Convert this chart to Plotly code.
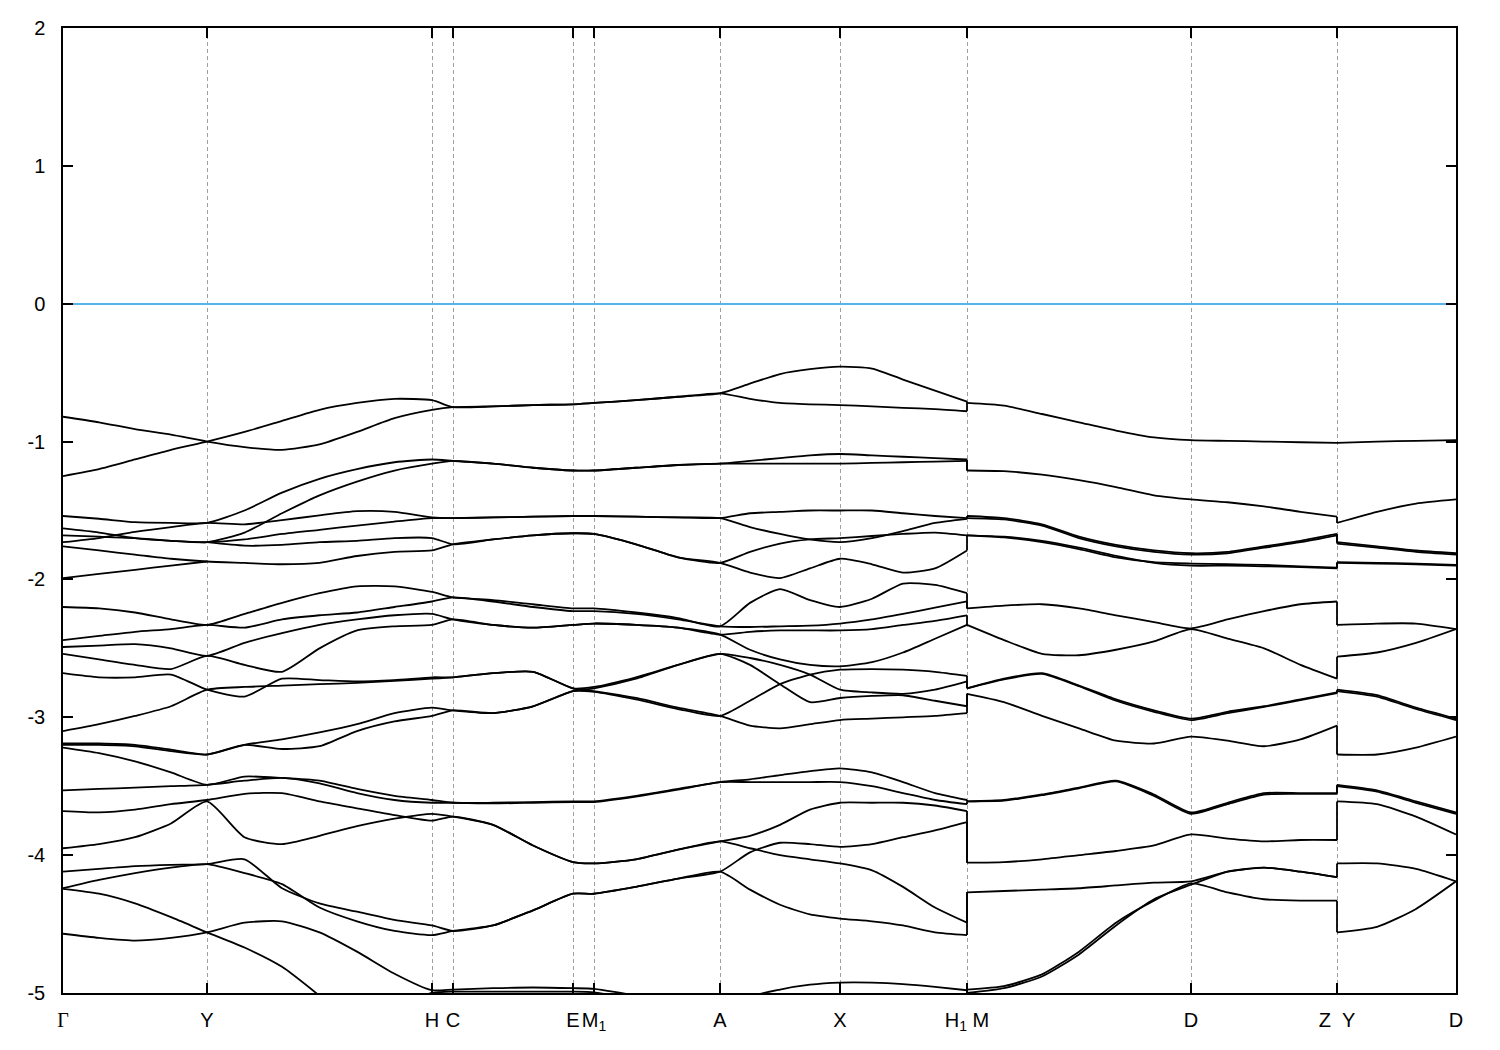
import plotly.graph_objects as go

# k-path sample positions (arbitrary path units); duplicated points mark discontinuities H1|M and Z|Y
K = [0.000, 0.036, 0.072, 0.108, 0.144,
     0.1815, 0.219, 0.2565, 0.294, 0.3315, 0.369,
     0.390,
     0.430, 0.470, 0.510,
     0.531,
     0.573, 0.615, 0.657,
     0.687, 0.717, 0.747, 0.777,
     0.809, 0.840, 0.872, 0.904,
     0.904, 0.941, 0.979, 1.016, 1.053, 1.091, 1.128,
     1.1645, 1.201, 1.2375, 1.274,
     1.274, 1.314, 1.353, 1.393]

K_TICKS = [0.000, 0.144, 0.369, 0.390, 0.510, 0.531, 0.657, 0.777, 0.904, 1.128, 1.274, 1.393]
K_LABELS = ["<span style='font-family:Liberation Serif'>\u0393</span>", "Y", "H", "C", "E",
            "M<sub>1</sub>", "A", "X", "H<sub>1</sub>\u00a0M", "D", "Z\u00a0\u00a0Y", "D"]

Y_TICKS = [-5, -4, -3, -2, -1, 0, 1, 2]

N = None
B01 = [-0.82, -0.86, -0.91, -0.95, -1.00,
       -1.04, -1.06, -1.02, -0.93, -0.83, -0.77,
       -0.75,
       -0.745, -0.735, -0.73,
       -0.72,
       -0.70, -0.675, -0.65,
       -0.58, -0.51, -0.475, -0.457,
       -0.47, -0.55, -0.63, -0.71,
       -0.72, -0.74, -0.80, -0.86, -0.92, -0.97, -0.99,
       -0.995, -1.00, -1.005, -1.01,
       -1.01, -1.00, -0.995, -0.99]
B02 = [-1.25, -1.20, -1.13, -1.06, -1.00,
       -0.93, -0.85, -0.77, -0.72, -0.69, -0.70,
       -0.75,
       -0.745, -0.735, -0.73,
       -0.72,
       -0.70, -0.675, -0.65,
       -0.69, -0.72, -0.73, -0.735,
       -0.745, -0.755, -0.765, -0.78,
       -0.72, N, N, N, N, N, N,
       N, N, N, N,
       N, N, N, N]
B03 = [-1.54, -1.56, -1.585, -1.59, -1.59,
       -1.50, -1.37, -1.27, -1.20, -1.15, -1.13,
       -1.14,
       -1.16, -1.19, -1.21,
       -1.21,
       -1.19, -1.17, -1.16,
       -1.14, -1.12, -1.10, -1.09,
       -1.10, -1.11, -1.12, -1.13,
       -1.21, -1.215, -1.24, -1.28, -1.33, -1.39, -1.42,
       -1.44, -1.47, -1.51, -1.545,
       -1.59, -1.51, -1.45, -1.42]
B04 = [-1.73, -1.70, -1.655, -1.62, -1.59,
       -1.60, -1.57, -1.535, -1.505, -1.51, -1.55,
       -1.555,
       -1.55, -1.545, -1.54,
       -1.54,
       -1.545, -1.55, -1.555,
       -1.52, -1.51, -1.50, -1.50,
       -1.50, -1.52, -1.54, -1.555,
       -1.54, -1.555, -1.60, -1.69, -1.75, -1.79, -1.81,
       -1.80, -1.76, -1.72, -1.67,
       -1.73, -1.76, -1.79, -1.81]
B05 = [-1.63, -1.66, -1.70, -1.72, -1.73,
       -1.66, -1.52, -1.39, -1.29, -1.21, -1.16,
       -1.14,
       -1.16, -1.19, -1.21,
       -1.21,
       -1.19, -1.17, -1.16,
       -1.16, -1.16, -1.16, -1.16,
       -1.155, -1.15, -1.145, -1.14,
       -1.21, N, N, N, N, N, N,
       N, N, N, N,
       N, N, N, N]
B06 = [-1.68, -1.69, -1.70, -1.72, -1.73,
       -1.71, -1.67, -1.64, -1.61, -1.58, -1.555,
       -1.555,
       -1.55, -1.545, -1.54,
       -1.54,
       -1.545, -1.55, -1.555,
       -1.62, -1.67, -1.71, -1.73,
       -1.70, -1.65, -1.59, -1.56,
       -1.555, -1.565, -1.61, -1.70, -1.76, -1.80, -1.82,
       -1.81, -1.77, -1.73, -1.68,
       -1.74, -1.77, -1.80, -1.82]
B07 = [N, N, N, N, -1.73,
       -1.755, -1.75, -1.73, -1.72, -1.70, -1.70,
       -1.745,
       -1.71, -1.68, -1.665,
       -1.67,
       -1.745, -1.84, -1.88,
       -1.80, -1.74, -1.71, -1.70,
       -1.685, -1.67, -1.66, -1.68,
       -1.68, -1.69, -1.72, -1.77, -1.83, -1.88, -1.90,
       -1.90, -1.905, -1.91, -1.92,
       -1.88, -1.885, -1.89, -1.90]
B08 = [-1.76, -1.79, -1.82, -1.85, -1.87,
       -1.88, -1.89, -1.88, -1.83, -1.80, -1.79,
       -1.745,
       -1.71, -1.68, -1.665,
       -1.67,
       -1.745, -1.84, -1.88,
       -1.95, -1.99, -1.92, -1.85,
       -1.89, -1.95, -1.92, -1.79,
       -1.68, -1.695, -1.73, -1.78, -1.84, -1.875, -1.885,
       -1.89, -1.895, -1.905, -1.915,
       -1.875, -1.88, -1.885, -1.895]
B09 = [-1.99, -1.96, -1.93, -1.90, -1.87,
       N, N, N, N, N, N,
       N,
       N, N, N,
       N,
       N, N, N,
       N, N, N, N,
       N, N, N, N,
       N, N, N, N, N, N, N,
       N, N, N, N,
       N, N, N, N]
B10 = [-2.20, -2.21, -2.24, -2.29, -2.33,
       -2.25, -2.17, -2.10, -2.05, -2.05, -2.09,
       -2.13,
       -2.15, -2.18, -2.21,
       -2.21,
       -2.24, -2.28, -2.34,
       -2.17, -2.07, -2.15, -2.20,
       -2.14, -2.03, -2.04, -2.10,
       -2.21, -2.19, -2.18, -2.21, -2.26, -2.31, -2.355,
       -2.29, -2.23, -2.18, -2.16,
       -2.33, -2.32, -2.32, -2.36]
B11 = [-2.44, -2.41, -2.38, -2.36, -2.33,
       -2.35, -2.29, -2.26, -2.24, -2.20, -2.16,
       -2.13,
       -2.16, -2.20, -2.23,
       -2.23,
       -2.25, -2.29, -2.34,
       -2.345, -2.34, -2.335, -2.32,
       -2.29, -2.25, -2.205, -2.16,
       -2.21, N, N, N, N, N, N,
       N, N, N, N,
       N, N, N, N]
B12 = [-2.49, -2.48, -2.47, -2.50, -2.555,
       -2.46, -2.39, -2.33, -2.29, -2.26, -2.25,
       -2.29,
       -2.33, -2.35, -2.33,
       -2.32,
       -2.33, -2.35, -2.40,
       -2.38, -2.37, -2.37, -2.37,
       -2.36, -2.33, -2.30, -2.26,
       -2.33, -2.44, -2.54, -2.55, -2.51, -2.45, -2.36,
       -2.43, -2.50, -2.62, -2.72,
       -2.56, -2.53, -2.46, -2.36]
B13 = [-2.54, -2.58, -2.62, -2.65, -2.555,
       -2.62, -2.67, -2.50, -2.37, -2.34, -2.33,
       -2.29,
       -2.33, -2.35, -2.33,
       -2.32,
       -2.33, -2.35, -2.40,
       -2.51, -2.58, -2.62, -2.63,
       -2.60, -2.53, -2.43, -2.33,
       -2.33, N, N, N, N, N, N,
       N, N, N, N,
       N, N, N, N]
B14 = [-2.68, -2.71, -2.71, -2.69, -2.80,
       -2.85, -2.72, -2.73, -2.74, -2.73, -2.71,
       -2.71,
       -2.68, -2.67, -2.79,
       -2.81,
       -2.86, -2.93, -2.99,
       -3.06, -3.08, -3.05, -3.02,
       -3.01, -3.00, -2.99, -2.97,
       -2.83, -2.89, -2.99, -3.08, -3.17, -3.19, -3.14,
       -3.17, -3.21, -3.16, -3.06,
       -3.27, -3.27, -3.22, -3.14]
B15 = [-3.10, -3.05, -2.99, -2.92, -2.80,
       -2.78, -2.77, -2.76, -2.75, -2.735, -2.72,
       -2.71,
       -2.68, -2.67, -2.79,
       -2.78,
       -2.71, -2.62, -2.54,
       -2.57, -2.62, -2.69, -2.80,
       -2.82, -2.83, -2.80, -2.74,
       -2.79, -2.72, -2.68, -2.77, -2.87, -2.95, -3.01,
       -2.96, -2.92, -2.87, -2.82,
       -2.80, -2.84, -2.93, -3.01]
B16 = [-3.19, -3.19, -3.20, -3.235, -3.27,
       -3.20, -3.23, -3.21, -3.10, -3.03, -2.99,
       -2.95,
       -2.97, -2.92, -2.81,
       -2.815,
       -2.87, -2.94, -2.99,
       -2.88, -2.76, -2.69, -2.655,
       -2.65, -2.655, -2.67, -2.70,
       -2.79, -2.725, -2.685, -2.775, -2.88, -2.96, -3.02,
       -2.97, -2.925, -2.875, -2.825,
       -2.81, -2.85, -2.94, -3.02]
B17 = [-3.20, -3.20, -3.21, -3.245, -3.27,
       -3.20, -3.16, -3.11, -3.05, -2.97, -2.93,
       -2.95,
       -2.97, -2.92, -2.81,
       -2.79,
       -2.72, -2.62, -2.54,
       -2.62, -2.76, -2.89, -2.86,
       -2.845, -2.84, -2.88, -2.92,
       -2.83, N, N, N, N, N, N,
       N, N, N, N,
       N, N, N, N]
B18 = [-3.22, -3.26, -3.32, -3.40, -3.49,
       -3.43, -3.44, -3.46, -3.52, -3.57, -3.60,
       -3.62,
       -3.62, -3.615, -3.61,
       -3.61,
       -3.57, -3.52, -3.47,
       -3.45, -3.42, -3.39, -3.37,
       -3.40, -3.47, -3.55, -3.60,
       -3.61, -3.60, -3.56, -3.51, -3.46, -3.56, -3.69,
       -3.62, -3.55, -3.55, -3.55,
       -3.49, -3.53, -3.61, -3.69]
B19 = [-3.53, -3.52, -3.51, -3.50, -3.49,
       -3.46, -3.44, -3.48, -3.55, -3.60, -3.62,
       -3.62,
       -3.625, -3.62, -3.615,
       -3.615,
       -3.575, -3.525, -3.47,
       -3.47, -3.47, -3.47, -3.47,
       -3.50, -3.55, -3.60, -3.63,
       -3.61, -3.605, -3.565, -3.515, -3.465, -3.57, -3.70,
       -3.63, -3.56, -3.555, -3.555,
       -3.50, -3.54, -3.62, -3.70]
B20 = [-3.68, -3.69, -3.67, -3.63, -3.60,
       -3.555, -3.55, -3.61, -3.66, -3.71, -3.75,
       -3.72,
       -3.78, -3.93, -4.05,
       -4.06,
       -4.03, -3.96, -3.90,
       -3.86, -3.78, -3.67, -3.62,
       -3.62, -3.62, -3.64, -3.68,
       -4.055, -4.05, -4.03, -4.00, -3.97, -3.93, -3.85,
       -3.88, -3.90, -3.89, -3.89,
       -3.61, -3.63, -3.72, -3.85]
B21 = [-3.95, -3.92, -3.87, -3.77, -3.61,
       -3.87, -3.92, -3.86, -3.79, -3.735, -3.70,
       -3.72,
       -3.78, -3.93, -4.05,
       -4.06,
       -4.03, -3.96, -3.90,
       -3.95, -4.00, -4.03, -4.06,
       -4.11, -4.23, -4.38, -4.49,
       -4.27, -4.26, -4.25, -4.24, -4.22, -4.20, -4.19,
       -4.12, -4.09, -4.12, -4.16,
       -4.06, -4.06, -4.10, -4.19]
B22 = [-4.12, -4.10, -4.08, -4.07, -4.065,
       -4.03, -4.24, -4.35, -4.41, -4.47, -4.51,
       -4.55,
       -4.51, -4.40, -4.28,
       -4.28,
       -4.23, -4.17, -4.12,
       -3.98, -3.91, -3.92, -3.94,
       -3.92, -3.87, -3.82, -3.76,
       -4.055, N, N, N, N, N, N,
       N, N, N, N,
       N, N, N, N]
B23 = [-4.24, -4.18, -4.13, -4.09, -4.065,
       -4.13, -4.21, -4.38, -4.48, -4.55, -4.58,
       -4.55,
       -4.51, -4.40, -4.28,
       -4.28,
       -4.23, -4.17, -4.12,
       -4.25, -4.36, -4.43, -4.46,
       -4.48, -4.51, -4.56, -4.58,
       -4.27, N, N, N, N, N, N,
       N, N, N, N,
       N, N, N, N]
B24 = [-4.245, -4.28, -4.35, -4.45, -4.56,
       -4.67, -4.81, -5.02, -5.25, -5.10, -5.00,
       -4.99,
       -4.99, -4.99, -4.99,
       -4.995,
       -5.05, N, N,
       N, N, N, N,
       N, N, N, N,
       -5.00, -4.965, -4.88, -4.72, -4.51, -4.32, -4.215,
       -4.12, -4.09, -4.12, -4.16,
       N, N, N, N]
B25 = [-4.57, -4.60, -4.62, -4.60, -4.56,
       -4.49, -4.48, -4.56, -4.70, -4.86, -4.98,
       -4.975,
       -4.965, -4.96, -4.965,
       -4.97,
       -5.02, -5.10, -5.20,
       -5.03, -4.975, -4.94, -4.925,
       -4.925, -4.935, -4.955, -4.98,
       -4.975, -4.95, -4.865, -4.70, -4.49, -4.33, -4.205,
       -4.27, -4.32, -4.33, -4.33,
       -4.56, -4.52, -4.39, -4.19]

BANDS = [B01, B02, B03, B04, B05, B06, B07, B08, B09, B10, B11, B12, B13,
         B14, B15, B16, B17, B18, B19, B20, B21, B22, B23, B24, B25]

# path pieces separated by the two discontinuities
PIECES = [(0, 27), (27, 38), (38, 42)]
JUMPS = [(26, 27), (37, 38)]

fig = go.Figure()

for band in BANDS:
    for s, e in PIECES:
        ys = band[s:e]
        if sum(v is not None for v in ys) < 2:
            continue
        fig.add_trace(go.Scatter(
            x=K[s:e], y=ys, mode="lines", connectgaps=False,
            line=dict(color="black", width=1.8, shape="spline", smoothing=0.6),
            hoverinfo="skip", showlegend=False))

# vertical connectors at discontinuities
jx, jy = [], []
for band in BANDS:
    for a, b in JUMPS:
        if band[a] is not None and band[b] is not None:
            jx += [K[a], K[b], None]
            jy += [band[a], band[b], None]
fig.add_trace(go.Scatter(x=jx, y=jy, mode="lines",
                         line=dict(color="black", width=1.8),
                         hoverinfo="skip", showlegend=False))

fig.update_layout(
    width=1500, height=1050,
    margin=dict(l=63, r=44, t=28, b=57, autoexpand=False),
    paper_bgcolor="white", plot_bgcolor="white",
    font=dict(family="Liberation Sans, Arial, sans-serif", size=20, color="black"),
    showlegend=False,
)
fig.update_xaxes(
    range=[K_TICKS[0], K_TICKS[-1]],
    tickmode="array", tickvals=K_TICKS, ticktext=K_LABELS,
    tickangle=0, automargin=False,
    ticks="inside", ticklen=10, tickwidth=1.5, tickcolor="black",
    showline=True, linecolor="black", linewidth=1.5, mirror="ticks",
    showgrid=True, gridcolor="#a0a0a0", gridwidth=1, griddash="4px,3px",
    zeroline=False, ticklabelstandoff=8,
    tickfont=dict(size=20),
)
fig.update_yaxes(
    range=[-5, 2], automargin=False,
    tickmode="array", tickvals=Y_TICKS, ticktext=[str(v) for v in Y_TICKS],
    ticks="inside", ticklen=10, tickwidth=1.5, tickcolor="black",
    showline=True, linecolor="black", linewidth=1.5, mirror="ticks",
    showgrid=False,
    zeroline=True, zerolinecolor="#56b4e9", zerolinewidth=1.5,
    ticklabelstandoff=12,
    tickfont=dict(size=20),
)

fig.write_html("out.html", config={"displayModeBar": False},
               post_script="document.body.style.margin='0';")
